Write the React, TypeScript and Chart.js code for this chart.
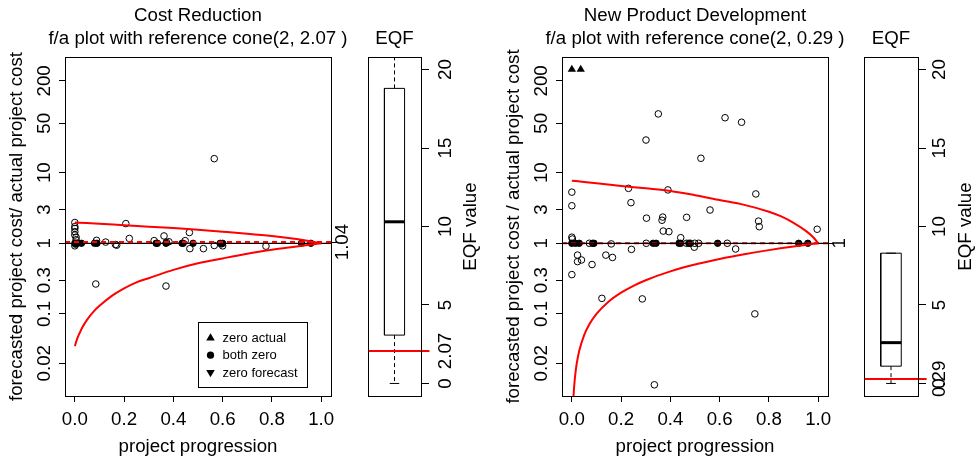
import React, { useEffect, useRef } from 'react';
import { Chart, registerables } from 'chart.js';

Chart.register(...registerables);

const FONT_FAMILY = '"Liberation Sans", Arial, Helvetica, sans-serif';
const FONT_SIZE = 18.7;

// ---------- shared axis definitions ----------
const ratioTickValues = [0.02, 0.1, 0.3, 1, 3, 10, 50, 200];
const ratioTickLabels = ['0.02', '0.1', '0.3', '1', '3', '10', '50', '200'];
const progressTickValues = [0, 0.2, 0.4, 0.6, 0.8, 1];
const progressTickLabels = ['0.0', '0.2', '0.4', '0.6', '0.8', '1.0'];
const ratioMin = 0.00687;
const ratioMax = 435;
const progressMin = -0.04;
const progressMax = 1.04;
const eqfMin = -0.8;
const eqfMax = 20.8;

const legendLabels = ['zero actual', 'both zero', 'zero forecast'];

// ---------- Cost Reduction ----------
const crTitle = ['Cost Reduction', 'f/a plot with reference cone(2, 2.07 )'];
const crYTitle = 'forecasted project cost/ actual project cost';
const crOpenProgress = [0, 0, 0, 0, 0, 0.005, 0.005, 0.003, 0, 0.088, 0.085, 0.125, 0.165, 0.17, 0.207, 0.221, 0.322, 0.362, 0.372, 0.37, 0.382, 0.448, 0.465, 0.467, 0.522, 0.566, 0.566, 0.6, 0.595, 0.776];
const crOpenRatio = [1.97, 1.72, 1.62, 1.46, 1.31, 1.22, 1.12, 0.97, 0.92, 1.10, 0.265, 1.04, 0.96, 0.94, 1.90, 1.17, 1.09, 1.27, 1.03, 0.248, 1.05, 1.09, 1.42, 0.84, 0.84, 0.93, 15.8, 0.92, 0.98, 0.91];
const crBothZeroProgress = [0, 0.005, 0.01, 0.027, 0.08, 0.09, 0.33, 0.335, 0.37, 0.435, 0.44, 0.48, 0.59, 0.6, 0.92, 0.958];
const crBothZeroRatio = [1, 1, 1, 1, 1, 1, 1, 1, 1, 1, 1, 1, 1, 1, 1, 1];
const crConeProgress = [0, 0.05, 0.1, 0.2, 0.3, 0.4, 0.5, 0.6, 0.7, 0.8, 0.9, 0.95, 1];
const crConeUpper = [1.97, 1.93, 1.89, 1.80, 1.72, 1.64, 1.55, 1.46, 1.37, 1.27, 1.15, 1.08, 1.0];
const crConeLowerProgress = [0, 0.01, 0.02, 0.03, 0.05, 0.075, 0.1, 0.15, 0.2, 0.25, 0.3, 0.4, 0.5, 0.6, 0.7, 0.8, 0.9, 1];
const crConeLower = [0.035, 0.045, 0.054, 0.064, 0.083, 0.107, 0.13, 0.18, 0.23, 0.28, 0.32, 0.42, 0.52, 0.61, 0.71, 0.81, 0.90, 1.0];
const crMedianRatio = 1.04;
const crMedianLabel = '1.04';
const crEqf = 2.07;
const crEqfTickValues = [0, 2.07, 5, 10, 15, 20];
const crEqfTickLabels = ['0', '2.07', '5', '10', '15', '20'];
// min, q1, median, q3, max (upper whisker runs off the top)
const crEqfStats = [0, 3.08, 10.3, 18.8, 23];

// ---------- New Product Development ----------
const npdTitle = ['New Product Development', 'f/a plot with reference cone(2, 0.29 )'];
const npdYTitle = 'forecasted project cost / actual project cost';
const npdOpenProgress = [0, 0, 0, 0.002, 0, 0.023, 0.023, 0.039, 0.071, 0.082, 0.122, 0.138, 0.16, 0.165, 0.23, 0.24, 0.242, 0.286, 0.301, 0.303, 0.302, 0.335, 0.351, 0.366, 0.369, 0.371, 0.394, 0.39, 0.442, 0.466, 0.466, 0.481, 0.497, 0.499, 0.515, 0.524, 0.561, 0.622, 0.631, 0.665, 0.689, 0.743, 0.747, 0.758, 0.761, 0.996];
const npdOpenRatio = [5.3, 3.4, 1.22, 1.15, 0.36, 0.68, 0.55, 0.58, 1.0, 0.5, 0.166, 0.68, 0.98, 0.63, 6.0, 3.76, 0.82, 0.163, 29, 2.27, 1.0, 0.0099, 68, 2.12, 2.35, 1.49, 1.46, 5.7, 1.2, 2.33, 1.0, 1.0, 0.88, 1.0, 1.0, 16, 2.96, 60, 1.0, 0.83, 51.8, 0.1, 5.0, 2.06, 1.72, 1.58];
const npdBothZeroProgress = [0, 0.015, 0.03, 0.084, 0.09, 0.33, 0.342, 0.435, 0.442, 0.475, 0.592, 0.921, 0.958];
const npdBothZeroRatio = [1, 1, 1, 1, 1, 1, 1, 1, 1, 1, 1, 1, 1];
const npdZeroActualProgress = [0, 0.036];
const npdZeroActualRatio = [290, 290];
const npdConeProgress = [0, 0.05, 0.1, 0.2, 0.3, 0.4, 0.5, 0.6, 0.7, 0.8, 0.85, 0.9, 0.95, 0.98, 1];
const npdConeUpper = [7.7, 7.4, 7.1, 6.5, 6.0, 5.5, 4.8, 4.1, 3.5, 2.8, 2.4, 1.95, 1.5, 1.22, 1.0];
const npdConeLowerProgress = [0.005, 0.007, 0.01, 0.015, 0.02, 0.03, 0.05, 0.07, 0.1, 0.15, 0.2, 0.25, 0.3, 0.4, 0.5, 0.6, 0.7, 0.8, 0.9, 1];
const npdConeLower = [0.005, 0.007, 0.01, 0.015, 0.02, 0.03, 0.05, 0.07, 0.1, 0.15, 0.2, 0.25, 0.3, 0.4, 0.5, 0.6, 0.7, 0.8, 0.9, 1.0];
const npdMedianRatio = 1.0;
const npdMedianLabel = '1';
const npdEqf = 0.29;
const npdEqfTickValues = [0, 0.29, 5, 10, 15, 20];
const npdEqfTickLabels = ['0', '0.29', '5', '10', '15', '20'];
const npdEqfStats = [0, 1.1, 2.6, 8.3, 8.3];

// ---------- helpers ----------
const pts = (xs: number[], ys: number[]) => xs.map((x, i) => ({ x, y: ys[i] }));

function vText(ctx: CanvasRenderingContext2D, t: string, x: number, y: number) {
  ctx.save();
  ctx.translate(x, y);
  ctx.rotate(-Math.PI / 2);
  ctx.fillText(t, 0, 0);
  ctx.restore();
}

function tickGrid(len: number) {
  return {
    display: true,
    drawOnChartArea: false,
    drawTicks: true,
    tickLength: len,
    color: '#000',
    tickColor: '#000',
    lineWidth: 1,
    tickWidth: 1,
  };
}

interface ScatterSpec {
  title: string[];
  yTitle: string;
  open: { x: number; y: number }[];
  both: { x: number; y: number }[];
  zeroActual: { x: number; y: number }[];
  coneUpper: { x: number; y: number }[];
  coneLower: { x: number; y: number }[];
  medianRatio: number;
  medianLabel: string;
  leftWidth: number;
  rightWidth: number;
  legend: boolean;
}

function scatterConfig(s: ScatterSpec): any {
  const decor = {
    id: 'rScatterDecor',
    afterDraw(chart: any) {
      const { ctx, chartArea: a, scales } = chart;
      ctx.save();
      ctx.setLineDash([]);
      ctx.strokeStyle = '#000';
      ctx.lineWidth = 1;
      ctx.strokeRect(a.left + 0.5, a.top + 0.5, a.right - a.left, a.bottom - a.top);
      ctx.fillStyle = '#000';
      ctx.font = `${FONT_SIZE}px ${FONT_FAMILY}`;
      ctx.textAlign = 'center';
      ctx.textBaseline = 'middle';
      const cx = (a.left + a.right) / 2;
      ctx.fillText(s.title[0], cx, 16);
      ctx.fillText(s.title[1], cx, 38.5);
      progressTickValues.forEach((v, i) =>
        ctx.fillText(progressTickLabels[i], scales.x.getPixelForValue(v), a.bottom + 23.5));
      ctx.fillText('project progression', cx, a.bottom + 51);
      ratioTickValues.forEach((v, i) =>
        vText(ctx, ratioTickLabels[i], a.left - 20, scales.y.getPixelForValue(v)));
      vText(ctx, s.yTitle, a.left - 48, (a.top + a.bottom) / 2);
      vText(ctx, s.medianLabel, a.right + 12, scales.y2.getPixelForValue(s.medianRatio));
      if (s.legend) {
        const lx = Math.round(scales.x.getPixelForValue(0.5));
        const ly = Math.round(scales.y.getPixelForValue(0.076));
        ctx.strokeRect(lx + 0.5, ly + 0.5, 109, 65);
        ctx.font = `13px ${FONT_FAMILY}`;
        ctx.textAlign = 'left';
        legendLabels.forEach((t, i) => {
          const y = ly + 15.5 + i * 17.7;
          const x = lx + 12.5;
          ctx.beginPath();
          if (i === 0) {
            ctx.moveTo(x, y - 4.3);
            ctx.lineTo(x + 4.3, y + 3);
            ctx.lineTo(x - 4.3, y + 3);
            ctx.closePath();
          } else if (i === 1) {
            ctx.arc(x, y, 3.6, 0, Math.PI * 2);
          } else {
            ctx.moveTo(x, y + 4.3);
            ctx.lineTo(x + 4.3, y - 3);
            ctx.lineTo(x - 4.3, y - 3);
            ctx.closePath();
          }
          ctx.fill();
          ctx.fillText(t, lx + 24.5, y + 0.5);
        });
      }
      ctx.restore();
    },
  };

  const line = (data: any[], color: string, width: number, extra: any = {}) => ({
    data,
    showLine: true,
    borderColor: color,
    borderWidth: width,
    pointRadius: 0,
    fill: false,
    ...extra,
  });

  const unitLine = line([{ x: progressMin, y: 1 }, { x: progressMax, y: 1 }], '#000', 1.2);
  const medianLine = line(
    [{ x: progressMin, y: s.medianRatio }, { x: progressMax, y: s.medianRatio }],
    '#ff0000', 2, { borderDash: [5, 4] });
  // first dataset is painted last (on top)
  const refLines = s.medianRatio === 1 ? [unitLine, medianLine] : [medianLine, unitLine];

  return {
    type: 'scatter',
    data: {
      datasets: [
        line(s.coneUpper, '#ff0000', 2, { cubicInterpolationMode: 'monotone' }),
        line(s.coneLower, '#ff0000', 2, { cubicInterpolationMode: 'monotone' }),
        ...refLines,
        {
          data: s.zeroActual,
          pointStyle: 'triangle',
          pointRadius: 4.8,
          pointBackgroundColor: '#000',
          pointBorderColor: '#000',
          pointBorderWidth: 0,
        },
        {
          data: s.both,
          pointStyle: 'circle',
          pointRadius: 3.2,
          pointBackgroundColor: '#000',
          pointBorderColor: '#000',
          pointBorderWidth: 1,
        },
        {
          data: s.open,
          pointStyle: 'circle',
          pointRadius: 3.3,
          pointBackgroundColor: 'rgba(0,0,0,0)',
          pointBorderColor: '#000',
          pointBorderWidth: 1,
        },
      ],
    },
    options: {
      responsive: false,
      maintainAspectRatio: false,
      animation: false,
      events: [],
      layout: { padding: { top: 57, left: 0, right: 0, bottom: 0 } },
      plugins: { legend: { display: false }, tooltip: { enabled: false }, title: { display: false } },
      scales: {
        x: {
          type: 'linear',
          position: 'bottom',
          min: progressMin,
          max: progressMax,
          bounds: 'data',
          afterBuildTicks: (sc: any) => { sc.ticks = progressTickValues.map((v) => ({ value: v })); },
          afterFit: (sc: any) => { sc.height = 64; },
          grid: tickGrid(6),
          border: { display: false },
          ticks: { display: false },
        },
        y: {
          type: 'logarithmic',
          position: 'left',
          min: ratioMin,
          max: ratioMax,
          bounds: 'data',
          afterBuildTicks: (sc: any) => { sc.ticks = ratioTickValues.map((v) => ({ value: v })); },
          afterFit: (sc: any) => { sc.width = s.leftWidth; },
          grid: tickGrid(6),
          border: { display: false },
          ticks: { display: false },
        },
        y2: {
          type: 'logarithmic',
          position: 'right',
          min: ratioMin,
          max: ratioMax,
          bounds: 'data',
          afterBuildTicks: (sc: any) => { sc.ticks = [{ value: s.medianRatio }]; },
          afterFit: (sc: any) => { sc.width = s.rightWidth; },
          grid: tickGrid(6),
          border: { display: false },
          ticks: { display: false },
        },
      },
    },
    plugins: [decor],
  };
}

interface BoxSpec {
  stats: number[];
  eqf: number;
  tickValues: number[];
  tickLabels: string[];
  leftPad: number;
  axisWidth: number;
  labelOffset: number;
  titleOffset: number;
}

function boxConfig(b: BoxSpec): any {
  const [mn, q1, med, q3, mx] = b.stats;
  const decor = {
    id: 'rBoxDecor',
    afterDraw(chart: any) {
      const { ctx, chartArea: a, scales } = chart;
      ctx.save();
      ctx.setLineDash([]);
      ctx.strokeStyle = '#000';
      ctx.lineWidth = 1;
      ctx.strokeRect(a.left + 0.5, a.top + 0.5, a.right - a.left, a.bottom - a.top);
      ctx.fillStyle = '#000';
      ctx.font = `${FONT_SIZE}px ${FONT_FAMILY}`;
      ctx.textAlign = 'center';
      ctx.textBaseline = 'middle';
      ctx.fillText('EQF', (a.left + a.right) / 2, 38.5);
      b.tickValues.forEach((v, i) =>
        vText(ctx, b.tickLabels[i], a.right + b.labelOffset, scales.y.getPixelForValue(v)));
      vText(ctx, 'EQF value', a.right + b.titleOffset, (a.top + a.bottom) / 2);
      ctx.restore();
    },
  };
  const seg = (data: any[], width: number, color = '#000', extra: any = {}) => ({
    data,
    showLine: true,
    borderColor: color,
    borderWidth: width,
    pointRadius: 0,
    fill: false,
    ...extra,
  });
  return {
    type: 'scatter',
    data: {
      datasets: [
        seg([{ x: 0.5, y: b.eqf }, { x: 1.66, y: b.eqf }], 2, '#ff0000', { clip: false }),
        seg([{ x: 0.81, y: med }, { x: 1.19, y: med }], 3),
        seg([{ x: 0.81, y: q1 }, { x: 1.19, y: q1 }, { x: 1.19, y: q3 }, { x: 0.81, y: q3 }, { x: 0.81, y: q1 }], 1),
        seg([{ x: 1, y: q3 }, { x: 1, y: mx }], 1, '#000', { borderDash: [4, 3] }),
        seg([{ x: 1, y: q1 }, { x: 1, y: mn }], 1, '#000', { borderDash: [4, 3] }),
        seg([{ x: 0.91, y: mn }, { x: 1.09, y: mn }], 1),
        seg([{ x: 0.91, y: mx }, { x: 1.09, y: mx }], 1),
      ],
    },
    options: {
      responsive: false,
      maintainAspectRatio: false,
      animation: false,
      events: [],
      layout: { padding: { top: 57, left: b.leftPad, right: 0, bottom: 64 } },
      plugins: { legend: { display: false }, tooltip: { enabled: false }, title: { display: false } },
      scales: {
        x: { type: 'linear', min: 0.5, max: 1.5, display: false },
        y: {
          type: 'linear',
          position: 'right',
          min: eqfMin,
          max: eqfMax,
          bounds: 'data',
          afterBuildTicks: (sc: any) => { sc.ticks = b.tickValues.map((v) => ({ value: v })); },
          afterFit: (sc: any) => { sc.width = b.axisWidth; },
          grid: tickGrid(8),
          border: { display: false },
          ticks: { display: false },
        },
      },
    },
    plugins: [decor],
  };
}

function Panel({ left, width, make }: { left: number; width: number; make: () => any }) {
  const ref = useRef<HTMLCanvasElement>(null);
  useEffect(() => {
    const chart = new Chart(ref.current as HTMLCanvasElement, make());
    return () => chart.destroy();
  }, []);
  return (
    <div style={{ position: 'absolute', left, top: 0, width, height: 460 }}>
      <canvas ref={ref} width={width} height={460} style={{ display: 'block', width, height: 460 }} />
    </div>
  );
}

export default function App() {
  return (
    <div style={{ position: 'absolute', left: 0, top: 0, width: 977, height: 460, background: '#fff', overflow: 'hidden' }}>
      <Panel
        left={0}
        width={360}
        make={() =>
          scatterConfig({
            title: crTitle,
            yTitle: crYTitle,
            open: pts(crOpenProgress, crOpenRatio),
            both: pts(crBothZeroProgress, crBothZeroRatio),
            zeroActual: [],
            coneUpper: pts(crConeProgress, crConeUpper),
            coneLower: pts(crConeLowerProgress, crConeLower),
            medianRatio: crMedianRatio,
            medianLabel: crMedianLabel,
            leftWidth: 65,
            rightWidth: 29,
            legend: true,
          })
        }
      />
      <Panel
        left={360}
        width={130}
        make={() =>
          boxConfig({
            stats: crEqfStats,
            eqf: crEqf,
            tickValues: crEqfTickValues,
            tickLabels: crEqfTickLabels,
            leftPad: 8,
            axisWidth: 69,
            labelOffset: 24.5,
            titleOffset: 50,
          })
        }
      />
      <Panel
        left={490}
        width={360}
        make={() =>
          scatterConfig({
            title: npdTitle,
            yTitle: npdYTitle,
            open: pts(npdOpenProgress, npdOpenRatio),
            both: pts(npdBothZeroProgress, npdBothZeroRatio),
            zeroActual: pts(npdZeroActualProgress, npdZeroActualRatio),
            coneUpper: pts(npdConeProgress, npdConeUpper),
            coneLower: pts(npdConeLowerProgress, npdConeLower),
            medianRatio: npdMedianRatio,
            medianLabel: npdMedianLabel,
            leftWidth: 72,
            rightWidth: 22,
            legend: false,
          })
        }
      />
      <Panel
        left={850}
        width={127}
        make={() =>
          boxConfig({
            stats: npdEqfStats,
            eqf: npdEqf,
            tickValues: npdEqfTickValues,
            tickLabels: npdEqfTickLabels,
            leftPad: 14,
            axisWidth: 59,
            labelOffset: 21.5,
            titleOffset: 48,
          })
        }
      />
    </div>
  );
}
